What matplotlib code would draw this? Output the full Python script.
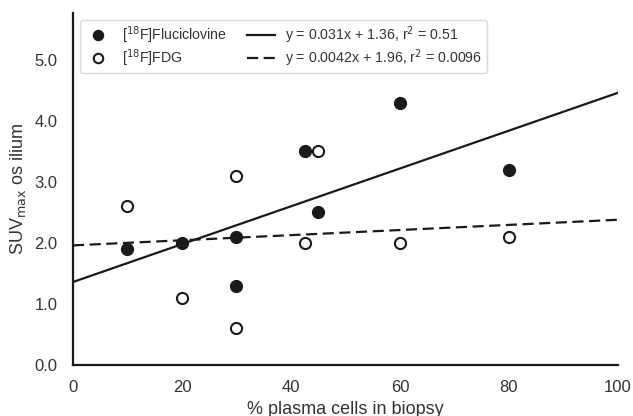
import matplotlib
matplotlib.use("Agg")
import numpy as np
import matplotlib.pyplot as plt

plt.rcParams["font.family"] = ["Liberation Sans", "DejaVu Sans"]

# Data
flu_x = [10, 20, 30, 30, 42.5, 45, 60, 80]
flu_y = [1.9, 2.0, 2.1, 1.3, 3.5, 2.5, 4.3, 3.2]
fdg_x = [10, 20, 30, 30, 42.5, 45, 60, 80]
fdg_y = [2.6, 1.1, 3.1, 0.6, 2.0, 3.5, 2.0, 2.1]

# Regression coefficients (slope, intercept) from the legend
flu_fit = (0.031, 1.36)
fdg_fit = (0.0042, 1.96)
flu_label = r"y = 0.031x + 1.36, r$^2$ = 0.51"
fdg_label = r"y = 0.0042x + 1.96, r$^2$ = 0.0096"

fig = plt.figure(figsize=(6.33, 4.16), dpi=100)
ax = fig.add_axes([0.1153, 0.1226, 0.8607, 0.8464])

h1, = ax.plot(flu_x, flu_y, "o", color="#1a1a1a", markersize=8.5,
              label=r"[$^{18}$F]Fluciclovine", zorder=3)
h2, = ax.plot(fdg_x, fdg_y, "o", markerfacecolor="white", markeredgecolor="#1a1a1a",
              markeredgewidth=1.5, markersize=8, label=r"[$^{18}$F]FDG", zorder=3)

xs = np.array([0, 100])
h3, = ax.plot(xs, flu_fit[0] * xs + flu_fit[1], "-", color="#1a1a1a", lw=1.6,
              label=flu_label)
h4, = ax.plot(xs, fdg_fit[0] * xs + fdg_fit[1], color="#1a1a1a", lw=1.6,
              dashes=(5, 2.5), label=fdg_label)

ax.set_xlim(0, 100)
ax.set_ylim(0, 5.77)
ax.set_xticks([0, 20, 40, 60, 80, 100])
ax.set_yticks([0, 1, 2, 3, 4, 5])
ax.set_yticklabels(["0.0", "1.0", "2.0", "3.0", "4.0", "5.0"])
ax.tick_params(length=0, labelsize=12, colors="#333333")
ax.tick_params(axis="x", pad=11)
ax.tick_params(axis="y", pad=11)
for s in ["top", "right"]:
    ax.spines[s].set_visible(False)
for s in ["left", "bottom"]:
    ax.spines[s].set_linewidth(1.6)
    ax.spines[s].set_color("#1a1a1a")

ax.set_xlabel("% plasma cells in biopsy", fontsize=13, color="#333333", labelpad=4)
ax.set_ylabel(r"SUV$_{\mathrm{max}}$ os ilium", fontsize=13, color="#333333", labelpad=5)

leg = ax.legend(handles=[h1, h2, h3, h4], ncol=2, loc="upper left",
                bbox_to_anchor=(80 / 633, 1 - 20 / 416), bbox_transform=fig.transFigure,
                borderaxespad=0, fontsize=10.2, frameon=True, markerscale=0.85,
                handlelength=1.95, handletextpad=0.75, columnspacing=1.4,
                borderpad=0.3, labelspacing=0.12)
leg.get_frame().set_edgecolor("#d0d0d0")
for t in leg.get_texts():
    t.set_color("#333333")

fig.savefig("out.png", dpi=100)
